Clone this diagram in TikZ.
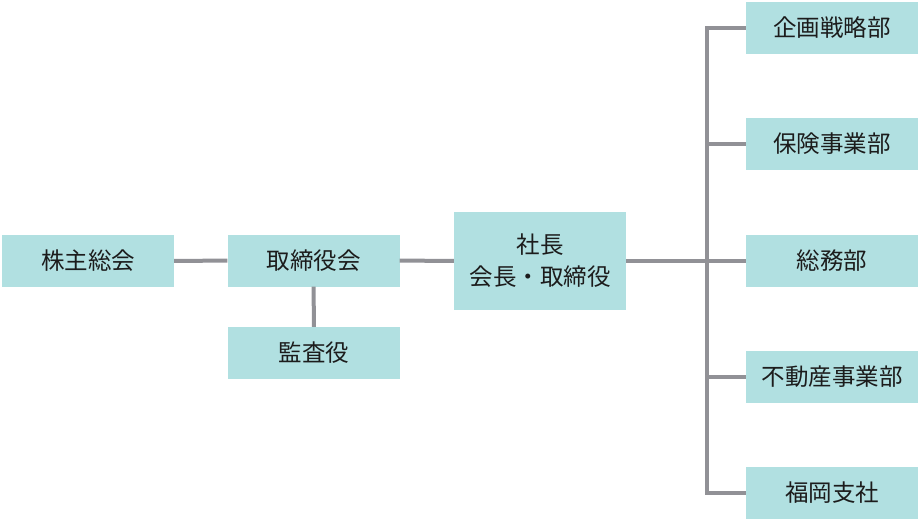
\documentclass[tikz,border=0pt]{standalone}
\usepackage{fontspec}
\newfontfamily\jp{Noto Sans CJK JP}
\usepackage{tikz}
\usetikzlibrary{positioning,calc}
\definecolor{boxcyan}{HTML}{B1E0E1}
\definecolor{linkgray}{HTML}{919196}
\definecolor{inkdark}{HTML}{1C1C1C}

\begin{document}
\begin{tikzpicture}[x=1pt,y=-1pt,
  orgbox/.style={fill=boxcyan,minimum width=172pt,minimum height=52pt,inner sep=0pt,
    text=inkdark,font=\jp\fontsize{23.5}{32}\selectfont,align=center},
  link/.style={linkgray,line width=4pt}]
 \useasboundingbox (0,0) rectangle (920,522);
 \node[orgbox] (kabunushi) at (88,261) {株主総会};
 \node[orgbox] (torishimari) at (313.5,260.5) {取締役会};
 \node[orgbox] (kansa) at (314,353) {監査役};
 \node[orgbox,minimum height=98pt] (shacho) at (540,261) {社長\\会長・取締役};
 \foreach \y/\n/\t in {27.5/1/企画戦略部,144/2/保険事業部,261/3/総務部,377/4/不動産事業部,492.5/5/福岡支社}{
  \node[orgbox] (dept\n) at (832,\y) {\t};}
 \coordinate (trunk) at (707,261);
 \draw[link] (kabunushi) -- (torishimari);
 \draw[link] (torishimari) -- (kansa);
 \draw[link] (torishimari) -- (shacho);
 \draw[link] (shacho) -- (trunk);
 \draw[link] (dept1.west) -| (trunk) |- (dept5.west);
 \foreach \n in {2,3,4}{
  \draw[link] (dept\n.west) -- (dept\n.west -| trunk);}
\end{tikzpicture}
\end{document}
